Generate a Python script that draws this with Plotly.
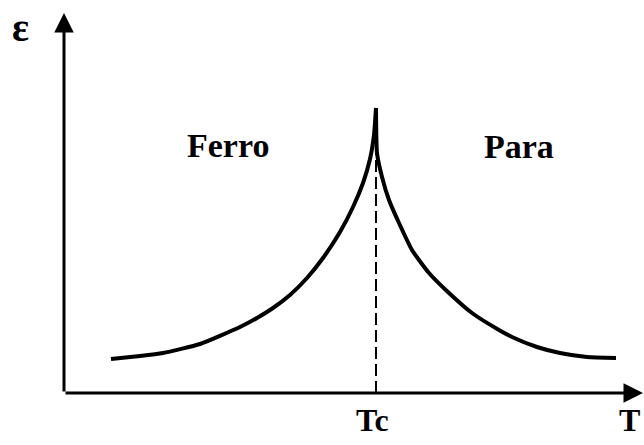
import plotly.graph_objects as go

# Curve: T (horizontal) and epsilon (vertical), arbitrary units.
T_ferro = [47, 76, 99, 136, 176, 193, 209, 226, 243, 259, 276, 289, 299, 306, 310, 312]
eps_ferro = [34, 37, 40, 49, 66, 75, 85, 98, 115, 135, 161, 186, 210, 234, 258, 285]

T_para = [312, 313, 318, 325, 335, 348, 365, 385, 408, 435, 448, 473, 496, 523, 552]
eps_para = [285, 240, 216, 193, 170, 143, 120, 100, 80, 63, 56, 46, 40, 36, 35]

T_c = 312
eps_dash_top = 243

# Axis extents (arrow tips).
T_max = 579
eps_max = 380

serif = "Liberation Serif"

fig = go.Figure()

curve_line = dict(color="black", width=4, shape="spline", smoothing=0.5)
fig.add_trace(go.Scatter(x=T_ferro, y=eps_ferro, mode="lines", line=curve_line,
                         showlegend=False, hoverinfo="skip"))
fig.add_trace(go.Scatter(x=T_para, y=eps_para, mode="lines", line=curve_line,
                         showlegend=False, hoverinfo="skip"))

# Dashed line at Tc.
fig.add_trace(go.Scatter(x=[T_c, T_c], y=[0, eps_dash_top], mode="lines",
                         line=dict(color="black", width=2, dash="12px,5px"),
                         showlegend=False, hoverinfo="skip"))

# Axes with arrows.
arrow_kw = dict(xref="x", yref="y", axref="x", ayref="y", text="", showarrow=True,
                arrowhead=2, arrowsize=1.3, arrowwidth=3, arrowcolor="black")
fig.add_annotation(x=0, y=eps_max, ax=0, ay=0, **arrow_kw)
fig.add_annotation(x=T_max, y=0, ax=0, ay=0, **arrow_kw)

# Labels.
def label(x, y, text, size, xanchor="center"):
    fig.add_annotation(x=x, y=y, xref="x", yref="y", text=f"<b>{text}</b>",
                       xanchor=xanchor, showarrow=False,
                       font=dict(family=serif, size=size, color="black"))

label(164, 248, "Ferro", 34)
label(455, 247, "Para", 34)
label(308, -27, "Tc", 32)
label(578, -27, "T", 32, xanchor="right")
label(-54, 366, "ε", 40, xanchor="left")

fig.update_xaxes(range=[-64, 580], visible=False, fixedrange=True)
fig.update_yaxes(range=[-52, 393], visible=False, fixedrange=True)
fig.update_layout(
    width=644, height=445,
    margin=dict(l=0, r=0, t=0, b=0),
    plot_bgcolor="white", paper_bgcolor="white",
)

# Drop the default 8px body margin so the figure fills the window.
fig.write_html("out.html", config={"displayModeBar": False},
               post_script="document.body.style.margin = '0';")
